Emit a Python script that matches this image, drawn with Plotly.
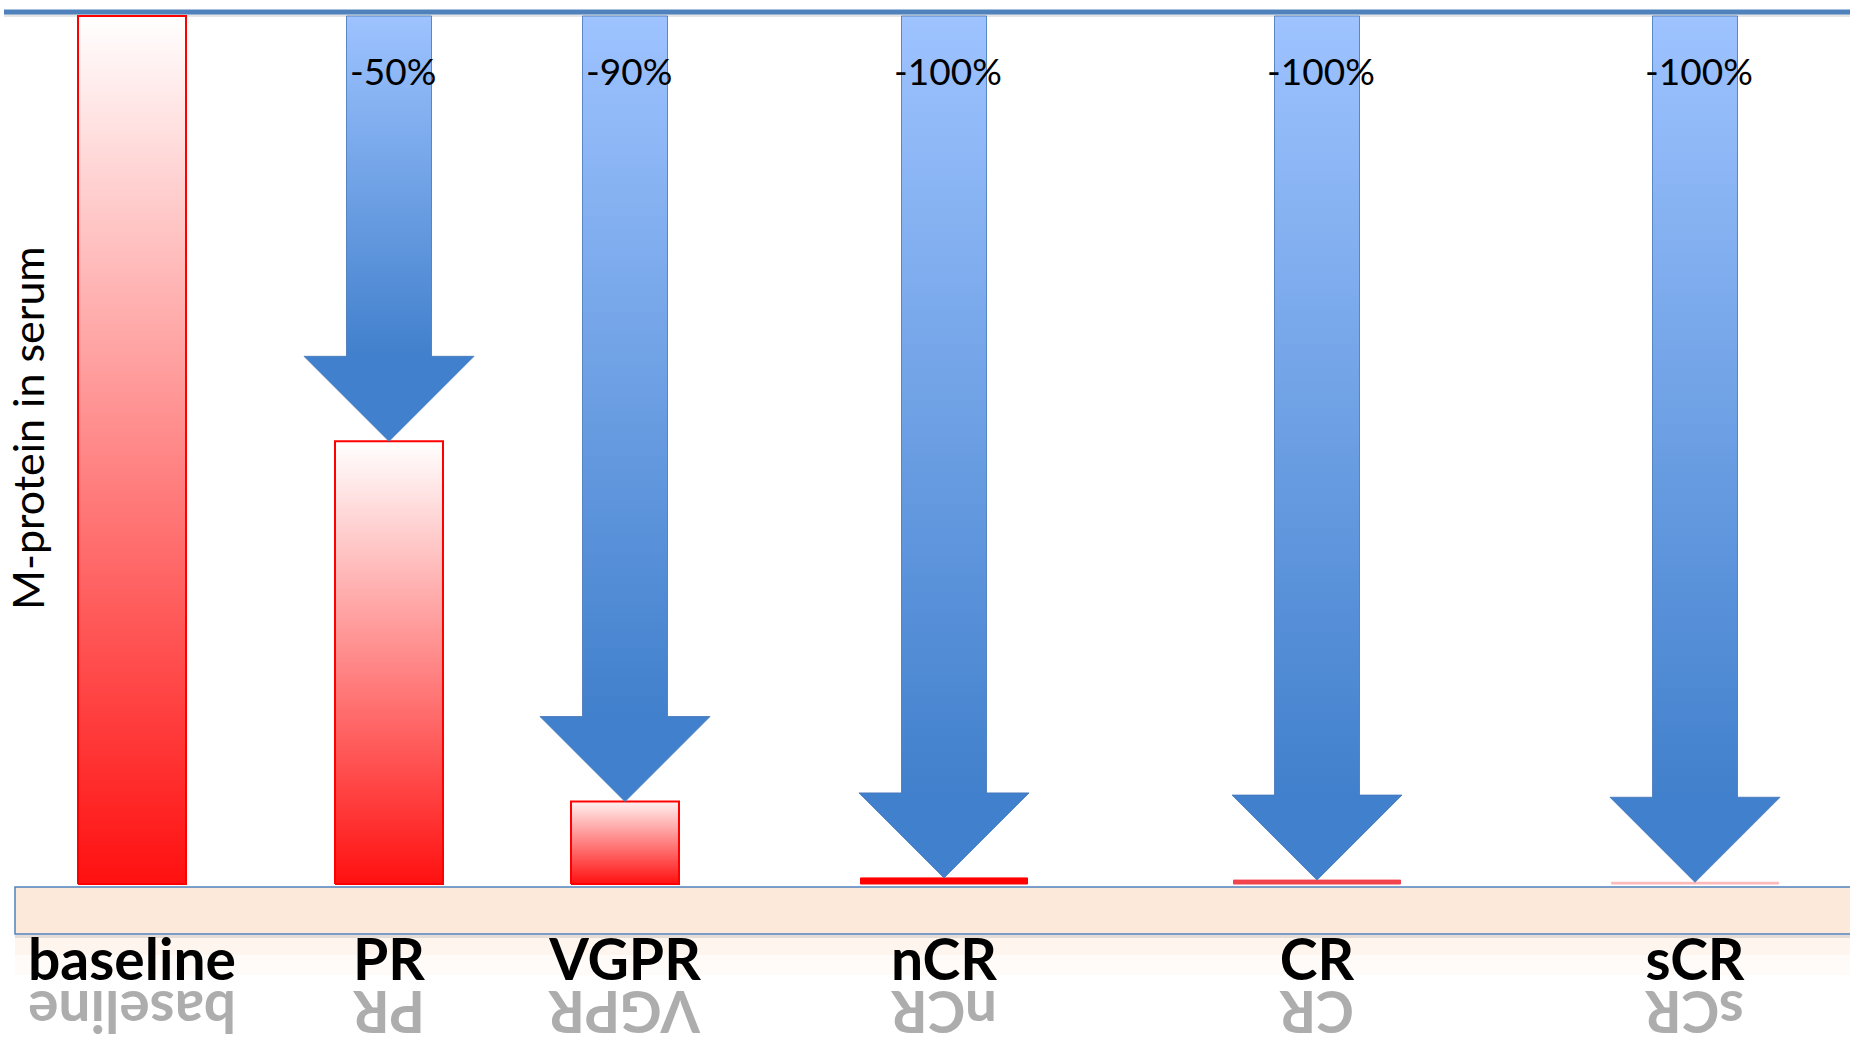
import plotly.graph_objects as go

# ---------------- data ----------------
categories = ["baseline", "PR", "VGPR", "nCR", "CR", "sCR"]
m_protein = [100, 51, 9.5, 0.7, 0.45, 0.2]          # remaining M-protein, % of baseline
change_labels = ["", "-50%", "-90%", "-100%", "-100%", "-100%"]
y_title = "M-protein in serum"

# ---------------- layout / style ----------------
W, H = 1850, 1038
slot_x = [132, 389, 625, 944, 1317, 1695]            # category centres on the x axis (px units)
PX_TOP, PX_ZERO = 16, 884                            # page rows of value 100 and value 0
UNIT = (PX_ZERO - PX_TOP) / 100.0                    # px per value unit

BAR_W = 108
LINE_W = 167
SHAFT_W = 85
HEAD_W = 170
HEAD_LEN = 85 / UNIT

bar_fill_top = ["#FFFFFF", "#FFFFFF", "#FFF0F0", None, None, None]
bar_solid = [None, None, None, "#FF0000", "#F2444C", "#FFB8B8"]
FONT = "Lato"


def py(p):
    """page row -> paper y"""
    return 1 - p / H


def vy(p):
    """page row -> data y"""
    return (PX_ZERO - p) / UNIT


fig = go.Figure()

# bars (remaining M-protein)
for i, (cat, v) in enumerate(zip(categories, m_protein)):
    c = slot_x[i]
    big = bar_solid[i] is None
    w = BAR_W if big else LINE_W
    xs = [c - w / 2, c + w / 2, c + w / 2, c - w / 2, c - w / 2]
    ys = [0, 0, v, v, 0]
    if big:
        fig.add_trace(go.Scatter(
            x=xs, y=ys, mode="lines", fill="toself", name=cat,
            line=dict(color="#FF0000", width=2),
            fillgradient=dict(type="vertical",
                              colorscale=[[0, "#FF1010"], [1, bar_fill_top[i]]]),
            hoverinfo="skip", showlegend=False))
    else:
        fig.add_trace(go.Scatter(
            x=xs, y=ys, mode="lines", fill="toself", name=cat,
            line=dict(color=bar_solid[i], width=1), fillcolor=bar_solid[i],
            hoverinfo="skip", showlegend=False))

# arrows (reduction from baseline)
top = m_protein[0]
for i in range(1, len(categories)):
    c = slot_x[i]
    tip = m_protein[i]
    ht = tip + HEAD_LEN
    xs = [c - SHAFT_W / 2, c + SHAFT_W / 2, c + SHAFT_W / 2, c + HEAD_W / 2, c,
          c - HEAD_W / 2, c - SHAFT_W / 2, c - SHAFT_W / 2]
    ys = [top, top, ht, ht, tip, ht, ht, top]
    fig.add_trace(go.Scatter(
        x=xs, y=ys, mode="lines", fill="toself", name=categories[i] + " arrow",
        line=dict(color="rgba(70,120,185,0.85)", width=1),
        fillgradient=dict(type="vertical", start=ht, stop=top,
                          colorscale=[[0, "#4180CC"], [1, "#9EC3FF"]]),
        hoverinfo="skip", showlegend=False))
    fig.add_annotation(x=c, y=vy(70), xref="x", yref="y", text=change_labels[i],
                       showarrow=False, xshift=4, xanchor="center", yanchor="middle",
                       font=dict(family=FONT, size=37, color="#000000"))

# reflections of category labels
for i, cat in enumerate(categories):
    fig.add_annotation(x=slot_x[i], y=py(1013), xref="x", yref="paper", text=cat,
                       showarrow=False, textangle=180, xanchor="center", yanchor="middle",
                       font=dict(family=FONT, size=57, weight=700, color="#ADADAD"))

# y title
fig.add_annotation(x=27 / W, y=py(428), xref="paper", yref="paper", text=y_title,
                   showarrow=False, textangle=-90, xanchor="center", yanchor="middle",
                   font=dict(family=FONT, size=43, color="#000000"))

BAND_X0 = 15 / W
shapes = [
    # soft fade under the band
    dict(type="rect", xref="paper", yref="paper", x0=BAND_X0, x1=1.01, y0=py(975), y1=py(934),
         fillcolor="rgba(253,233,217,0.18)", line=dict(width=0), layer="below"),
    dict(type="rect", xref="paper", yref="paper", x0=BAND_X0, x1=1.01, y0=py(955), y1=py(934),
         fillcolor="rgba(253,233,217,0.3)", line=dict(width=0), layer="below"),
    dict(type="line", xref="paper", yref="paper", x0=BAND_X0, x1=1.01, y0=py(936.5), y1=py(936.5),
         line=dict(color="rgba(0,0,0,0.10)", width=3), layer="below"),
    # band
    dict(type="rect", xref="paper", yref="paper", x0=BAND_X0, x1=1.01, y0=py(934), y1=py(887),
         fillcolor="#FDE9D9", line=dict(color="#4F81BD", width=1.5), layer="below"),
    # top rule
    dict(type="line", xref="paper", yref="paper", x0=4 / W, x1=1.0, y0=py(15.5), y1=py(15.5),
         line=dict(color="rgba(0,0,0,0.10)", width=3), layer="below"),
    dict(type="line", xref="paper", yref="paper", x0=4 / W, x1=1.0, y0=py(12), y1=py(12),
         line=dict(color="#4F81BD", width=5), layer="below"),
]

fig.update_layout(
    width=W, height=H,
    margin=dict(l=0, r=0, t=0, b=0),
    paper_bgcolor="white", plot_bgcolor="white",
    shapes=shapes,
    xaxis=dict(range=[0, W], anchor="free", position=py(922),
               tickvals=slot_x, ticktext=categories, ticks="",
               tickfont=dict(family=FONT, size=57, weight=700, color="#000000"),
               ticklabelstandoff=0,
               showgrid=False, zeroline=False, showline=False, fixedrange=True),
    yaxis=dict(range=[vy(H), vy(0)], showgrid=False, zeroline=False, showline=False,
               showticklabels=False, ticks="", fixedrange=True),
    showlegend=False,
)

fig.write_html("out.html", config={"displayModeBar": False})
